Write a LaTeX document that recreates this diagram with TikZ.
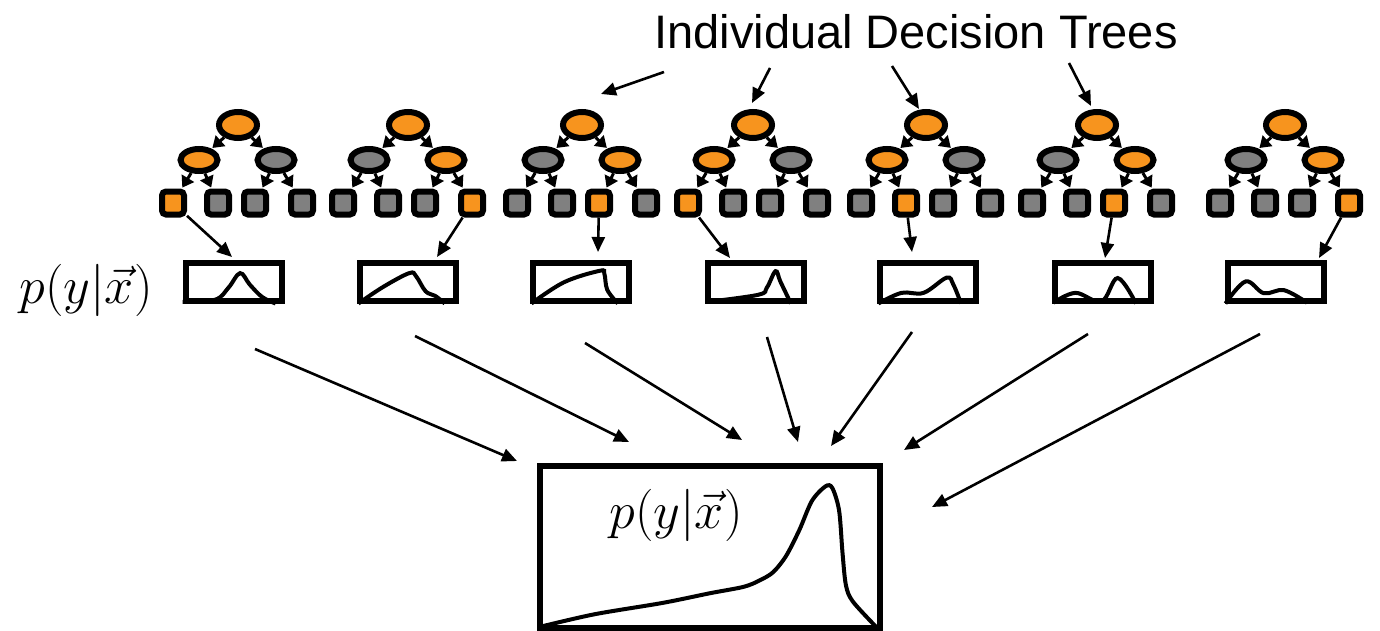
\documentclass[tikz,border=0pt]{standalone}
\usepackage{graphicx}
\usepackage{fontspec}
\newfontfamily\arialf{Liberation Sans}
\usetikzlibrary{arrows.meta,shapes.geometric,calc}
\definecolor{org}{RGB}{247,148,30}
\definecolor{gry}{RGB}{128,128,128}
\newcommand\pyx{\scalebox{2.1}{\Huge$p(y|\vec{x})$}}
\tikzset{
  rootn/.style={ellipse, draw, line width=6pt, fill=org, minimum width=38pt, minimum height=26pt, inner sep=0pt},
  midn/.style={ellipse, draw, line width=6pt, minimum width=37pt, minimum height=22pt, inner sep=0pt},
  leafn/.style={rectangle, rounded corners=4pt, draw, line width=6pt, minimum width=22pt, minimum height=23pt, inner sep=0pt},
  tarrow/.style={line width=3pt, shorten >=1pt, -{Triangle[length=11pt,width=14pt]}},
  farrow/.style={line width=2.6pt, -{Triangle[length=15pt,width=13pt]}},
  pbox/.style={rectangle, draw, line width=6pt, minimum width=96pt, minimum height=38pt, inner sep=0pt},
  bigbox/.style={rectangle, draw, line width=6pt, minimum width=340pt, minimum height=162pt, inner sep=0pt},
  pcurve/.style={line width=4pt},
  mathlbl/.style={inner sep=0pt},
}
\newcommand\drawtree[8]{%
  \node[rootn] (t#1r) at (#2,125) {};
  \node[midn,fill=#3] (t#1a) at (#2-39,160) {};
  \node[midn,fill=#4] (t#1b) at (#2+38,160) {};
  \node[leafn,fill=#5] (t#11) at (#2-65,203) {};
  \node[leafn,fill=#6] (t#12) at (#2-20,203) {};
  \node[leafn,fill=#7] (t#13) at (#2+17,203) {};
  \node[leafn,fill=#8] (t#14) at (#2+64,203) {};
  \draw[tarrow] (t#1r) -- (t#1a);
  \draw[tarrow] (t#1r) -- (t#1b);
  \draw[tarrow] (t#1a) -- (t#11);
  \draw[tarrow] (t#1a) -- (t#12);
  \draw[tarrow] (t#1b) -- (t#13);
  \draw[tarrow] (t#1b) -- (t#14);
}
\begin{document}
\begin{tikzpicture}[x=1pt,y=-1pt]
\useasboundingbox (0,0) rectangle (1380,631);

% title
\node[inner sep=0pt] (title) at (916,32) {\arialf\fontsize{47}{50}\selectfont Individual Decision Trees};
\coordinate (ta1) at (664,72);  \coordinate (te1) at (601,94);
\coordinate (ta2) at (770,68);  \coordinate (te2) at (752,103);
\coordinate (ta3) at (892,66);  \coordinate (te3) at (919,109);
\coordinate (ta4) at (1069,63); \coordinate (te4) at (1091,106);
\draw[farrow] (ta1) -- (te1);
\draw[farrow] (ta2) -- (te2);
\draw[farrow] (ta3) -- (te3);
\draw[farrow] (ta4) -- (te4);

% trees
\drawtree{1}{238}{org}{gry}{org}{gry}{gry}{gry}
\drawtree{2}{408}{gry}{org}{gry}{gry}{gry}{org}
\drawtree{3}{582}{gry}{org}{gry}{gry}{org}{gry}
\drawtree{4}{753}{org}{gry}{org}{gry}{gry}{gry}
\drawtree{5}{926}{org}{gry}{gry}{org}{gry}{gry}
\drawtree{6}{1097}{gry}{org}{gry}{gry}{org}{gry}
\drawtree{7}{1285}{gry}{org}{gry}{gry}{gry}{org}

% small boxes
\node[pbox] (b1) at (233.5,281.5) {};
\node[pbox] (b2) at (407.5,281.5) {};
\node[pbox] (b3) at (580.5,281.5) {};
\node[pbox] (b4) at (755.5,281.5) {};
\node[pbox] (b5) at (927.5,281.5) {};
\node[pbox] (b6) at (1102.5,281.5) {};
\node[pbox] (b7) at (1275.5,281.5) {};

% leaf -> box arrows
\coordinate (c1) at (232,257);
\coordinate (c2) at (437,257);
\coordinate (c3) at (598,252);
\coordinate (c4) at (730,258);
\coordinate (c5) at (912,252);
\coordinate (c6) at (1105,258);
\coordinate (c7) at (1319,258);
\draw[farrow] (t11) -- (c1);
\draw[farrow] (t24) -- (c2);
\draw[farrow] (t33) -- (c3);
\draw[farrow] (t41) -- (c4);
\draw[farrow] (t52) -- (c5);
\draw[farrow] (t63) -- (c6);
\draw[farrow] (t74) -- (c7);

% curves in small boxes
\begin{scope}[shift={(b1.south west)}, x={(96pt,0pt)}, y={(0pt,38pt)}]
  \draw[pcurve] plot[smooth, tension=0.6] coordinates {(0,0.04) (0.34,0.1) (0.48,0.42) (0.6,0.8) (0.7,0.5) (0.83,0.17) (0.97,0)};
\end{scope}
\begin{scope}[shift={(b2.south west)}, x={(96pt,0pt)}, y={(0pt,38pt)}]
  \draw[pcurve] plot[smooth, tension=0.6] coordinates {(0.02,0) (0.28,0.44) (0.55,0.8) (0.62,0.72) (0.72,0.32) (0.82,0.2) (0.92,0)};
\end{scope}
\begin{scope}[shift={(b3.south west)}, x={(96pt,0pt)}, y={(0pt,38pt)}]
  \draw[pcurve] plot[smooth, tension=0.6] coordinates {(0.02,0) (0.36,0.56) (0.73,0.86) (0.78,0.78) (0.81,0.36) (0.92,0)};
\end{scope}
\begin{scope}[shift={(b4.south west)}, x={(96pt,0pt)}, y={(0pt,38pt)}]
  \draw[pcurve] plot[smooth, tension=0.6] coordinates {(0.02,0.04) (0.56,0.23) (0.65,0.42) (0.74,0.85) (0.79,0.58) (0.9,0)};
\end{scope}
\begin{scope}[shift={(b5.south west)}, x={(96pt,0pt)}, y={(0pt,38pt)}]
  \draw[pcurve] plot[smooth, tension=0.6] coordinates {(0.02,0) (0.26,0.28) (0.49,0.28) (0.73,0.68) (0.8,0.5) (0.88,0)};
\end{scope}
\begin{scope}[shift={(b6.south west)}, x={(96pt,0pt)}, y={(0pt,38pt)}]
  \draw[pcurve] plot[smooth, tension=0.6] coordinates {(0.02,0.02) (0.25,0.28) (0.52,0.05) (0.69,0.67) (0.88,0)};
\end{scope}
\begin{scope}[shift={(b7.south west)}, x={(96pt,0pt)}, y={(0pt,38pt)}]
  \draw[pcurve] plot[smooth, tension=0.6] coordinates {(0.01,0) (0.22,0.58) (0.41,0.27) (0.62,0.35) (0.86,0.02)};
\end{scope}

% left label
\node[mathlbl] (lbl) at (86,290) {\pyx};

% big box
\node[bigbox] (big) at (709.5,546.5) {};
\begin{scope}[shift={(big.south west)}, x={(340pt,0pt)}, y={(0pt,162pt)}]
  \draw[pcurve] plot[smooth, tension=0.5] coordinates {(0.005,0.02) (0.17,0.1) (0.37,0.17) (0.51,0.23) (0.61,0.27) (0.657,0.31) (0.696,0.36) (0.734,0.46) (0.773,0.62) (0.81,0.8) (0.85,0.89) (0.87,0.88) (0.89,0.74) (0.9,0.48) (0.91,0.28) (0.93,0.18) (1,0.02)};
\end{scope}
\node[mathlbl] (biglbl) at (676,515) {\pyx};

% box -> big arrows
\coordinate (s1) at (255,349);  \coordinate (e1) at (517,461);
\coordinate (s2) at (415,336);  \coordinate (e2) at (629,442);
\coordinate (s3) at (585,343);  \coordinate (e3) at (742,440);
\coordinate (s4) at (767,337);  \coordinate (e4) at (798,442);
\coordinate (s5) at (912,332);  \coordinate (e5) at (831,446);
\coordinate (s6) at (1088,334); \coordinate (e6) at (904,450);
\coordinate (s7) at (1260,334); \coordinate (e7) at (932,507);
\draw[farrow] (s1) -- (e1);
\draw[farrow] (s2) -- (e2);
\draw[farrow] (s3) -- (e3);
\draw[farrow] (s4) -- (e4);
\draw[farrow] (s5) -- (e5);
\draw[farrow] (s6) -- (e6);
\draw[farrow] (s7) -- (e7);
\end{tikzpicture}
\end{document}
